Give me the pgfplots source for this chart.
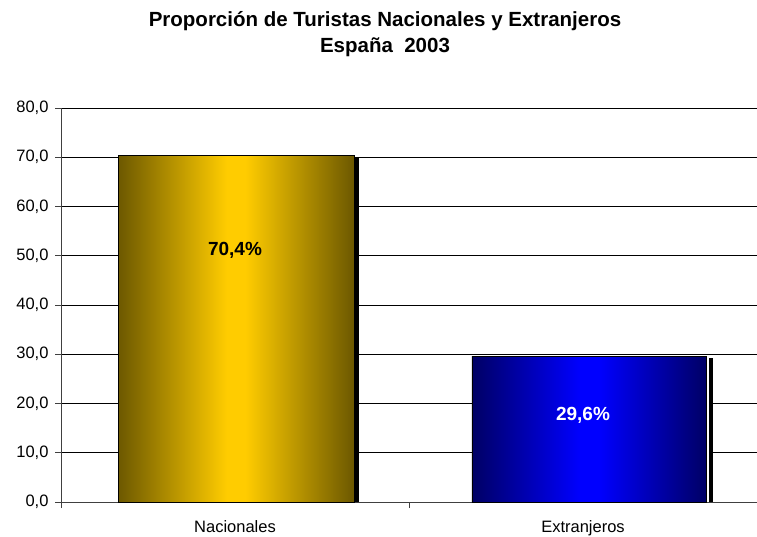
\documentclass[border=0pt]{standalone}
\usepackage{pgfplots}
\pgfplotsset{compat=1.18}
\usepackage{fontspec}
\setmainfont{Liberation Sans}
\definecolor{golddark}{RGB}{108,88,0}
\definecolor{goldmid}{RGB}{255,204,0}
\definecolor{bluedark}{RGB}{0,0,100}
\definecolor{bluemid}{RGB}{0,0,255}
\pgfdeclarehorizontalshading{goldbar}{100bp}{color(0bp)=(golddark); color(25bp)=(golddark); color(48bp)=(goldmid); color(52bp)=(goldmid); color(75bp)=(golddark); color(100bp)=(golddark)}
\pgfdeclarehorizontalshading{bluebar}{100bp}{color(0bp)=(bluedark); color(25bp)=(bluedark); color(48bp)=(bluemid); color(52bp)=(bluemid); color(75bp)=(bluedark); color(100bp)=(bluedark)}
\begin{document}
\begin{tikzpicture}[x=1pt,y=1pt]
\path[use as bounding box] (0,0) rectangle (757,536);
\begin{axis}[
  at={(61pt,34pt)}, anchor=south west,
  scale only axis, width=696pt, height=394pt,
  xmin=0, xmax=2, ymin=0, ymax=80,
  axis lines=left, axis line style={-, black!75, line width=0.9pt},
  ytick={0,10,...,80},
  ymajorgrids, grid style={black, line width=0.8pt},
  /pgf/number format/assume math mode=true,
  xtick={0.5,1.5}, xticklabels={Nacionales,Extranjeros},
  major x tick style={draw=none},
  minor xtick={0,1,2},
  tick align=outside, tick style={black!75, line width=0.9pt},
  major tick length=6pt, minor tick length=6pt,
  ticklabel style={font=\fontsize{16.5}{19}\selectfont},
  yticklabel style={xshift=-3pt, /pgf/number format/.cd, fixed, fixed zerofill, precision=1, use comma},
  xticklabel style={yshift=-9pt},
  title={Proporción de Turistas Nacionales y Extranjeros\\España\ \ 2003},
  title style={font=\bfseries\fontsize{20.5}{26}\selectfont, align=center, at={(0.5,1)}, anchor=center, yshift=68pt, xshift=-24pt},
  clip=true,
]
% shadows
\addplot[draw=none, fill=black] coordinates {(0.30,0) (0.30,69.8) (0.856,69.8) (0.856,0)} -- cycle;
\addplot[draw=none, fill=black] coordinates {(1.40,0) (1.40,29.3) (1.874,29.3) (1.874,0)} -- cycle;
\addplot[draw=none, fill=white] coordinates {(1.40,0) (1.40,29.6) (1.862,29.6) (1.862,0)} -- cycle;
% bars
\addplot[draw=black, line width=0.8pt, shading=goldbar]
  coordinates {(0.164,0) (0.164,70.4) (0.842,70.4) (0.842,0)} -- cycle;
\addplot[draw=black, line width=0.8pt, shading=bluebar]
  coordinates {(1.181,0) (1.181,29.6) (1.856,29.6) (1.856,0)} -- cycle;
% labels
\addplot[only marks, mark=none, nodes near coords, point meta=explicit symbolic,
  nodes near coords align=center,
  every node near coord/.append style={font=\bfseries\fontsize{19}{22}\selectfont, text=black}]
  coordinates {(0.5,51.1) [70,4\%]};
\addplot[only marks, mark=none, nodes near coords, point meta=explicit symbolic,
  nodes near coords align=center,
  every node near coord/.append style={font=\bfseries\fontsize{19}{22}\selectfont, text=white}]
  coordinates {(1.5,17.5) [29,6\%]};
\end{axis}
\end{tikzpicture}
\end{document}
